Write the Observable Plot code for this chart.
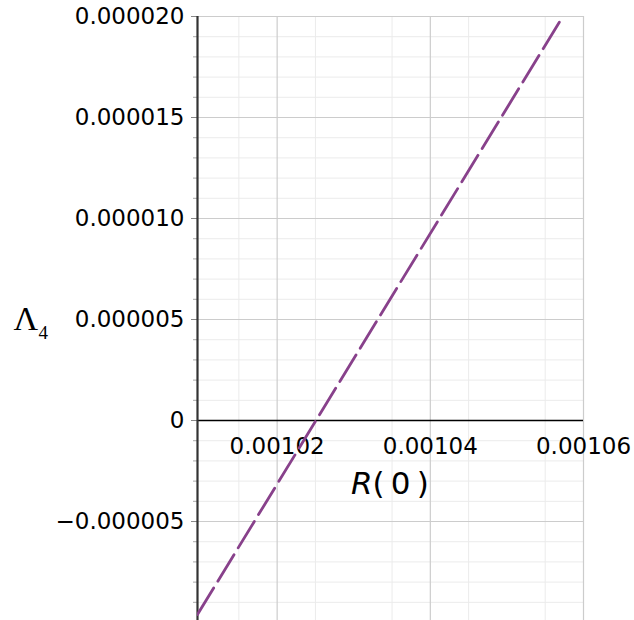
<!DOCTYPE html>
<html><head><meta charset="utf-8">
<script src="https://cdn.jsdelivr.net/npm/d3@7"></script>
<script src="https://cdn.jsdelivr.net/npm/@observablehq/plot@0.6"></script>
<style>body{margin:0;background:#fff;} svg{overflow:visible;}</style>
</head><body><div id="chart"></div>
<script>
// Data
const lineX = [0.0010096, 0.0010573];
const lineY = [-0.0000096, 0.00002];
const xTicks = [0.00102, 0.00104, 0.00106];
const xTickLabels = ["0.00102", "0.00104", "0.00106"];
const yTicks = [-0.000005, 0, 0.000005, 0.00001, 0.000015, 0.00002];
const yTickLabels = ["\u22120.000005", "0", "0.000005", "0.000010", "0.000015", "0.000020"];
const xMinor = [0.001015, 0.001025, 0.001035, 0.001045, 0.001055];
const yMinor = d3.range(-9, 21).filter(i => i % 5 !== 0).map(i => i * 1e-6);
const xDomain = [0.0010096, 0.00106];
const yDomain = [-0.0000099, 0.00002];

const lineData = lineX.map((x, i) => ({x, y: lineY[i]}));
const font = "'DejaVu Sans', sans-serif";

const plot = Plot.plot({
  width: 634, height: 620,
  marginLeft: 197, marginRight: 51, marginTop: 16, marginBottom: 0,
  x: {domain: xDomain, axis: null},
  y: {domain: yDomain, axis: null},
  style: {fontFamily: font, background: "#fff", overflow: "visible"},
  marks: [
    Plot.ruleY(yMinor, {stroke: "#ebebeb", strokeWidth: 1}),
    Plot.ruleX(xMinor, {stroke: "#ebebeb", strokeWidth: 1}),
    Plot.ruleY(yTicks, {stroke: "#cccccc", strokeWidth: 1.2}),
    Plot.ruleX(xTicks, {stroke: "#cccccc", strokeWidth: 1.2}),
    Plot.axisY(yMinor, {tickSize: 4, text: null, label: null, stroke: "#aaa"}),
    Plot.axisY(yTicks, {tickSize: 6, tickPadding: 7, label: null, stroke: "#888", fill: "#000",
      tickFormat: d => yTickLabels[yTicks.indexOf(d)], fontSize: 23}),
    Plot.ruleY([0], {stroke: "#000", strokeWidth: 1.6}),
    Plot.ruleX([xDomain[0]], {stroke: "#333", strokeWidth: 2.2}),
    Plot.text(xTicks, {x: d => d, y: () => 0, text: (d, i) => xTickLabels[i], dy: 26, fontSize: 23, fill: "#000"}),
    Plot.line(lineData, {x: "x", y: "y", stroke: "#88418b", strokeWidth: 2.8, strokeDasharray: "31,8", clip: true}),
    Plot.text(["R"], {frameAnchor: "top-left", lineAnchor: "middle", dx: 175, dy: 468, fontSize: 31, fontStyle: "italic", textAnchor: "end", fill: "#000"}),
    Plot.text(["(\u20090\u2009)"], {frameAnchor: "top-left", lineAnchor: "middle", dx: 175, dy: 468, fontSize: 31, textAnchor: "start", fill: "#000"}),
    Plot.text(["\u039B"], {frameAnchor: "top-left", lineAnchor: "middle", dx: -184, dy: 303, fontSize: 34, fontFamily: "'Liberation Serif', serif", textAnchor: "start", fill: "#000"}),
    Plot.text(["4"], {frameAnchor: "top-left", lineAnchor: "middle", dx: -159, dy: 316, fontSize: 19, fontFamily: "'Liberation Serif', serif", textAnchor: "start", fill: "#000"})
  ]
});
document.getElementById("chart").append(plot);
</script>
</body></html>
